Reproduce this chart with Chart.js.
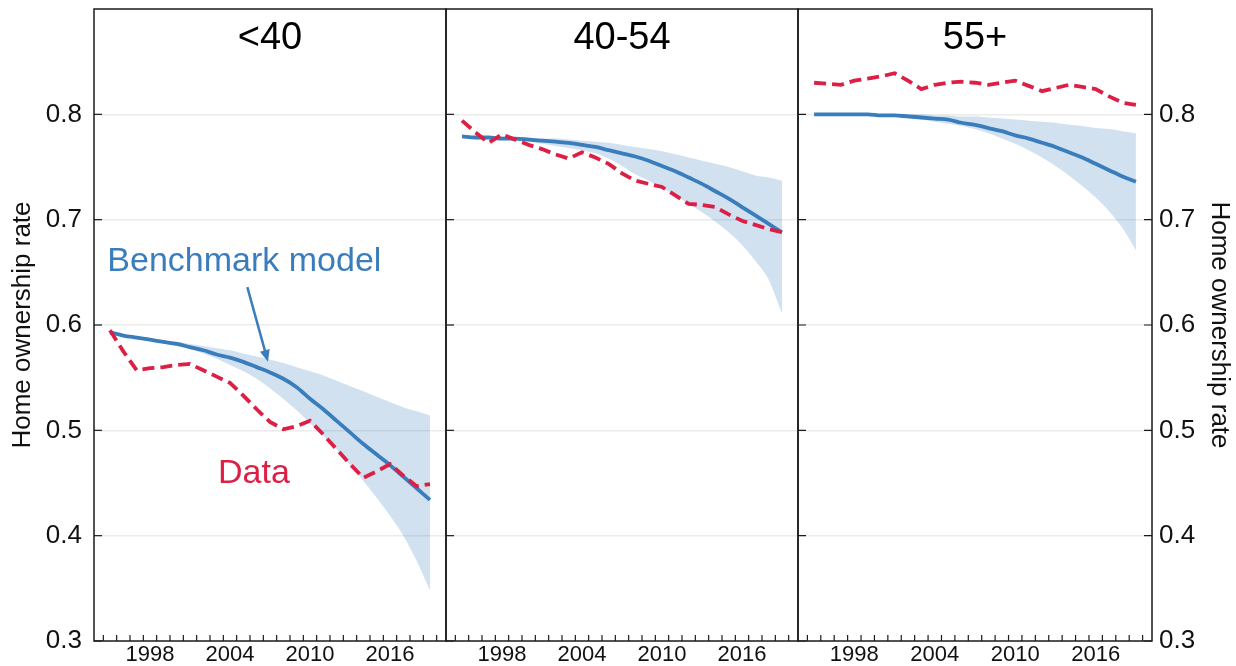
<!DOCTYPE html>
<html>
<head>
<meta charset="utf-8">
<title>Home ownership rate by age group</title>
<script src="https://cdn.jsdelivr.net/npm/chart.js@4.4.1/dist/chart.umd.min.js"></script>
<style>
    body { margin: 0; background: #fff; }
    #wrap { position: relative; width: 1236px; height: 666px; overflow: hidden; }
    #wrap canvas { position: absolute; top: 0; }
</style>
</head>
<body>
<div id="wrap">
    <canvas id="panel1" width="450" height="666" style="left:0px"></canvas>
    <canvas id="panel2" width="360" height="666" style="left:442px"></canvas>
    <canvas id="panel3" width="442" height="666" style="left:794px"></canvas>
</div>
<script>
// Years on the x axis
const years = [1995, 1996, 1997, 1998, 1999, 2000, 2001, 2002, 2003, 2004, 2005, 2006,
               2007, 2008, 2009, 2010, 2011, 2012, 2013, 2014, 2015, 2016, 2017, 2018, 2019];

// Age group <40
const under40Model = [0.593, 0.590, 0.588, 0.586, 0.584, 0.582, 0.579, 0.576, 0.572, 0.569, 0.565, 0.560,
                      0.555, 0.549, 0.541, 0.530, 0.520, 0.509, 0.498, 0.487, 0.477, 0.467, 0.456, 0.445, 0.434];
const under40Upper = [0.593, 0.591, 0.589, 0.587, 0.585, 0.584, 0.582, 0.580, 0.578, 0.576, 0.573, 0.570,
                      0.567, 0.564, 0.560, 0.556, 0.552, 0.547, 0.542, 0.537, 0.532, 0.527, 0.522, 0.518, 0.514];
const under40Lower = [0.593, 0.590, 0.588, 0.585, 0.583, 0.580, 0.577, 0.573, 0.568, 0.562, 0.556, 0.549,
                      0.540, 0.530, 0.519, 0.507, 0.495, 0.482, 0.467, 0.452, 0.436, 0.419, 0.400, 0.376, 0.348];
const under40Data  = [0.595, 0.575, 0.557, 0.559, 0.560, 0.562, 0.563, 0.557, 0.551, 0.545, 0.533, 0.520,
                      0.508, 0.501, 0.504, 0.509, 0.496, 0.482, 0.468, 0.455, 0.461, 0.468, 0.457, 0.447, 0.449];

// Age group 40-54
const mid40Model = [0.779, 0.778, 0.778, 0.777, 0.777, 0.776, 0.775, 0.774, 0.773, 0.771, 0.769, 0.766,
                    0.763, 0.760, 0.756, 0.751, 0.746, 0.740, 0.734, 0.727, 0.720, 0.712, 0.704, 0.696, 0.688];
const mid40Upper = [0.780, 0.779, 0.779, 0.779, 0.778, 0.778, 0.777, 0.777, 0.776, 0.775, 0.774, 0.773,
                    0.771, 0.769, 0.767, 0.765, 0.762, 0.759, 0.756, 0.753, 0.750, 0.746, 0.742, 0.740, 0.737];
const mid40Lower = [0.779, 0.778, 0.777, 0.776, 0.775, 0.774, 0.772, 0.770, 0.768, 0.766, 0.763, 0.758,
                    0.751, 0.743, 0.737, 0.730, 0.723, 0.715, 0.707, 0.698, 0.688, 0.676, 0.661, 0.643, 0.611];
const mid40Data  = [0.794, 0.783, 0.773, 0.781, 0.776, 0.771, 0.767, 0.762, 0.758, 0.764, 0.759, 0.753,
                    0.744, 0.737, 0.734, 0.731, 0.723, 0.715, 0.714, 0.712, 0.705, 0.699, 0.695, 0.691, 0.688];

// Age group 55+
const over55Model = [0.800, 0.800, 0.800, 0.800, 0.800, 0.799, 0.799, 0.798, 0.797, 0.796, 0.795, 0.792,
                     0.790, 0.787, 0.784, 0.780, 0.777, 0.773, 0.769, 0.764, 0.759, 0.753, 0.747, 0.741, 0.736];
const over55Upper = [0.800, 0.800, 0.800, 0.800, 0.800, 0.800, 0.800, 0.800, 0.800, 0.799, 0.799, 0.798,
                     0.798, 0.797, 0.796, 0.795, 0.794, 0.793, 0.792, 0.790, 0.789, 0.787, 0.786, 0.784, 0.782];
const over55Lower = [0.800, 0.800, 0.800, 0.800, 0.800, 0.799, 0.798, 0.797, 0.795, 0.793, 0.791, 0.789,
                     0.786, 0.782, 0.777, 0.772, 0.766, 0.759, 0.751, 0.742, 0.732, 0.721, 0.708, 0.692, 0.671];
const over55Data  = [0.830, 0.829, 0.828, 0.832, 0.834, 0.836, 0.839, 0.832, 0.824, 0.828, 0.830, 0.831,
                     0.830, 0.828, 0.830, 0.832, 0.827, 0.822, 0.825, 0.828, 0.826, 0.824, 0.817, 0.811, 0.809];

// Axis ticks and labels
const yTicks = [0.3, 0.4, 0.5, 0.6, 0.7, 0.8];
const xTickLabels = [1998, 2004, 2010, 2016];
const panelTitles = ['<40', '40-54', '55+'];
const yAxisTitle = 'Home ownership rate';

const FONT = '"Liberation Sans", Arial, Helvetica, sans-serif';
const BLUE = '#3a7dbc';
const RED = '#dc1f45';
const BAND = 'rgba(55, 126, 184, 0.23)';

Chart.defaults.font.family = FONT;
Chart.defaults.color = '#111';

/**
 * Frame, inward tick marks, panel title and annotations
 */
const panelFrame = {
    id: 'panelFrame',
    afterDraw(chart, args, opts) {
        const { ctx, chartArea: a, scales } = chart;
        ctx.save();
        ctx.strokeStyle = '#1a1a1a';

        // minor x ticks, every year, pointing inward
        ctx.lineWidth = 1.2;
        for (let yr = 1994.5; yr <= 2019.5; yr += 1) {
            const px = scales.x.getPixelForValue(yr);
            ctx.beginPath();
            ctx.moveTo(px, a.bottom);
            ctx.lineTo(px, a.bottom - 6);
            ctx.stroke();
        }

        // y ticks, pointing inward
        yTicks.forEach(v => {
            const py = scales.y.getPixelForValue(v);
            ctx.beginPath();
            ctx.moveTo(a.left, py);
            ctx.lineTo(a.left + 8, py);
            if (opts.rightTicks) {
                ctx.moveTo(a.right, py);
                ctx.lineTo(a.right - 8, py);
            }
            ctx.stroke();
        });

        // frame
        ctx.lineWidth = 1.5;
        ctx.strokeRect(a.left, a.top, a.width, a.height);

        // panel title
        ctx.fillStyle = '#000';
        ctx.font = '38px ' + FONT;
        ctx.textAlign = 'center';
        ctx.textBaseline = 'alphabetic';
        ctx.fillText(opts.title, (a.left + a.right) / 2, a.top + 40);

        // annotations
        (opts.notes || []).forEach(n => {
            const x = scales.x.getPixelForValue(n.x);
            const y = scales.y.getPixelForValue(n.y);
            ctx.fillStyle = n.color;
            ctx.font = n.size + 'px ' + FONT;
            ctx.textAlign = n.align;
            ctx.fillText(n.text, x, y);
        });
        (opts.arrows || []).forEach(ar => {
            const x0 = scales.x.getPixelForValue(ar.from[0]);
            const y0 = scales.y.getPixelForValue(ar.from[1]);
            const x1 = scales.x.getPixelForValue(ar.to[0]);
            const y1 = scales.y.getPixelForValue(ar.to[1]);
            const ang = Math.atan2(y1 - y0, x1 - x0);
            const head = 12;
            ctx.strokeStyle = ar.color;
            ctx.fillStyle = ar.color;
            ctx.lineWidth = 2.5;
            ctx.beginPath();
            ctx.moveTo(x0, y0);
            ctx.lineTo(x1 - Math.cos(ang) * head * 0.8, y1 - Math.sin(ang) * head * 0.8);
            ctx.stroke();
            ctx.beginPath();
            ctx.moveTo(x1, y1);
            ctx.lineTo(x1 - head * Math.cos(ang) + 5 * Math.sin(ang), y1 - head * Math.sin(ang) - 5 * Math.cos(ang));
            ctx.lineTo(x1 - head * Math.cos(ang) - 5 * Math.sin(ang), y1 - head * Math.sin(ang) + 5 * Math.cos(ang));
            ctx.closePath();
            ctx.fill();
        });
        ctx.restore();
    }
};

function toPoints(vals) {
    return vals.map((v, i) => ({ x: years[i], y: v }));
}

// remove the label overflow padding so all three plot areas line up
function noScalePadding(s) {
    s.paddingTop = 0;
    s.paddingBottom = 0;
    s.paddingLeft = 0;
    s.paddingRight = 0;
}

function buildPanel(canvasId, idx, model, upper, lower, data, side, extra) {
    const showLeft = side === 'left';
    const showRight = side === 'right';
    const yAxis = {
        min: 0.3,
        max: 0.9,
        position: showRight ? 'right' : 'left',
        afterBuildTicks: s => { s.ticks = yTicks.map(v => ({ value: v })); },
        ticks: {
            display: showLeft || showRight,
            font: { size: 26 },
            color: '#111',
            padding: showRight ? 7 : 12,
            callback: v => v.toFixed(1)
        },
        grid: {
            color: c => (c.tick && c.tick.value > 0.35) ? '#ebebeb' : 'rgba(0,0,0,0)',
            lineWidth: 1.5,
            drawTicks: false
        },
        border: { display: false },
        title: {
            display: showLeft || showRight,
            text: yAxisTitle,
            font: { size: 26 },
            color: '#111',
            padding: { top: showRight ? 1 : 7, bottom: 0 }
        },
        afterFit: s => {
            s.width = showLeft ? 94 : (showRight ? 84 : 0);
            noScalePadding(s);
        }
    };

    return new Chart(document.getElementById(canvasId), {
        type: 'line',
        data: {
            datasets: [
                {
                    label: 'Data',
                    data: toPoints(data),
                    borderColor: RED,
                    borderWidth: 3.8,
                    borderDash: [12, 6],
                    pointRadius: 0,
                    fill: false
                },
                {
                    label: 'Benchmark model',
                    data: toPoints(model),
                    borderColor: BLUE,
                    borderWidth: 3.8,
                    pointRadius: 0,
                    cubicInterpolationMode: 'monotone',
                    fill: false
                },
                {
                    label: 'Upper band',
                    data: toPoints(upper),
                    borderWidth: 0,
                    borderColor: 'rgba(0,0,0,0)',
                    backgroundColor: BAND,
                    pointRadius: 0,
                    cubicInterpolationMode: 'monotone',
                    fill: '+1'
                },
                {
                    label: 'Lower band',
                    data: toPoints(lower),
                    borderWidth: 0,
                    borderColor: 'rgba(0,0,0,0)',
                    pointRadius: 0,
                    cubicInterpolationMode: 'monotone',
                    fill: false
                }
            ]
        },
        options: {
            responsive: false,
            animation: false,
            devicePixelRatio: 1,
            layout: {
                padding: { top: 9, bottom: 0, left: showLeft ? 0 : 4, right: showRight ? 0 : 4 }
            },
            plugins: {
                legend: { display: false },
                tooltip: { enabled: false },
                panelFrame: Object.assign({ title: panelTitles[idx], rightTicks: showRight }, extra || {})
            },
            scales: {
                x: {
                    type: 'linear',
                    min: 1993.8,
                    max: 2020.2,
                    afterBuildTicks: s => { s.ticks = xTickLabels.map(v => ({ value: v })); },
                    ticks: {
                        font: { size: 22 },
                        color: '#111',
                        padding: 1,
                        autoSkip: false,
                        maxRotation: 0,
                        callback: v => String(v)
                    },
                    grid: { display: false, drawTicks: false },
                    border: { display: false },
                    afterFit: s => {
                        s.height = 25;
                        noScalePadding(s);
                    }
                },
                y: yAxis
            }
        },
        plugins: [panelFrame]
    });
}

document.addEventListener('DOMContentLoaded', function() {
    buildPanel('panel1', 0, under40Model, under40Upper, under40Lower, under40Data, 'left', {
        notes: [
            { text: 'Benchmark model', x: 1994.8, y: 0.651, color: BLUE, size: 34, align: 'left' },
            { text: 'Data', x: 2003.1, y: 0.450, color: RED, size: 34, align: 'left' }
        ],
        arrows: [
            { from: [2005.3, 0.636], to: [2006.85, 0.565], color: BLUE }
        ]
    });
    buildPanel('panel2', 1, mid40Model, mid40Upper, mid40Lower, mid40Data, 'none');
    buildPanel('panel3', 2, over55Model, over55Upper, over55Lower, over55Data, 'right');
});
</script>
</body>
</html>
